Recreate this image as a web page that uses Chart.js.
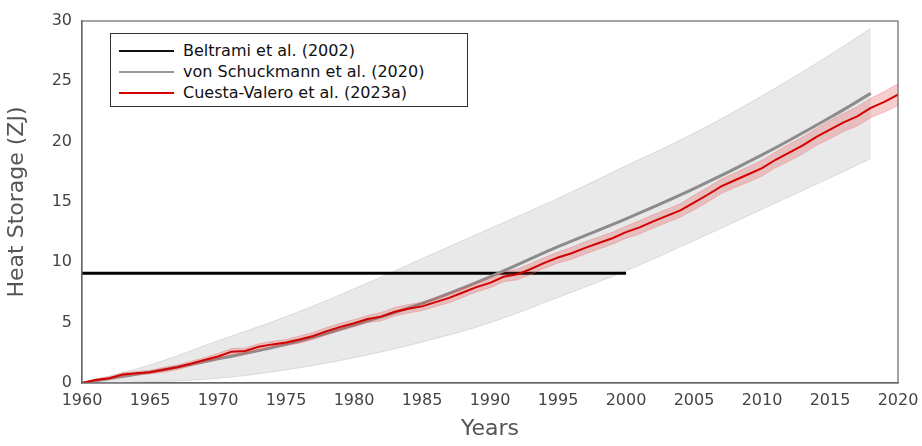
<!DOCTYPE html>
<html>
<head>
<meta charset="utf-8">
<script src="https://cdn.jsdelivr.net/npm/chart.js@4"></script>
<style>
  body { margin: 0; background: #fff; }
  #wrap { position: relative; width: 922px; height: 446px; }
  #legend { position: absolute; left: 110px; top: 33px; width: 358px; height: 74px; border: 1px solid #333;
    background: #fff; font-family: "DejaVu Sans", sans-serif; font-size: 16px; color: #111; box-sizing: border-box; padding: 6px 0 0 8px; }
  .row { display: flex; align-items: center; height: 21px; }
  .sw { width: 55px; height: 2px; margin-right: 9px; }
</style>
</head>
<body>
<div id="wrap">
  <canvas id="c" width="922" height="446"></canvas>
  <div id="legend">
    <div class="row"><span class="sw" style="background:#111"></span>Beltrami et al. (2002)</div>
    <div class="row"><span class="sw" style="background:#999"></span>von Schuckmann et al. (2020)</div>
    <div class="row"><span class="sw" style="background:#d40000"></span>Cuesta-Valero et al. (2023a)</div>
  </div>
</div>
<script>
// ====== DATA ======
const beltramiYears = [1960, 2000];
const beltramiValue = [9.1, 9.1];

const vsYears = [1960, 1965, 1970, 1975, 1980, 1985, 1990, 1995, 2000, 2005, 2010, 2015, 2018];
const vsMean  = [0, 0.9, 2.0, 3.2, 4.8, 6.6, 8.8, 11.3, 13.6, 16.1, 18.9, 22.0, 24.0];
const vsUpper = [0, 1.5, 3.5, 5.5, 7.8, 10.3, 12.8, 15.3, 18.0, 20.7, 23.8, 27.2, 29.4];
const vsLower = [0, 0.1, 0.4, 1.1, 2.1, 3.4, 5.0, 7.1, 9.3, 11.8, 14.4, 17.0, 18.6];

const cvYears = [];
for (let y = 1960; y <= 2020; y++) cvYears.push(y);
const cvMean = [0, 0.25, 0.4, 0.7, 0.8, 0.9, 1.1, 1.3, 1.6, 1.9,
  2.2, 2.6, 2.65, 3.0, 3.2, 3.35, 3.6, 3.9, 4.3, 4.65,
  4.95, 5.3, 5.5, 5.9, 6.15, 6.35, 6.7, 7.05, 7.5, 7.95,
  8.3, 8.8, 9.0, 9.45, 9.95, 10.4, 10.75, 11.2, 11.6, 12.0,
  12.5, 12.9, 13.4, 13.85, 14.3, 14.95, 15.6, 16.3, 16.8, 17.3,
  17.8, 18.5, 19.1, 19.7, 20.4, 21.0, 21.6, 22.1, 22.8, 23.3, 23.9];
const cvErr = [0, 0.1, 0.1, 0.15, 0.15, 0.15, 0.2, 0.2, 0.2, 0.2,
  0.25, 0.25, 0.25, 0.25, 0.25, 0.25, 0.3, 0.3, 0.3, 0.3,
  0.3, 0.3, 0.35, 0.35, 0.35, 0.35, 0.35, 0.4, 0.4, 0.4,
  0.4, 0.4, 0.45, 0.45, 0.45, 0.45, 0.5, 0.5, 0.5, 0.5,
  0.5, 0.55, 0.55, 0.55, 0.55, 0.6, 0.6, 0.6, 0.6, 0.65,
  0.65, 0.65, 0.7, 0.7, 0.7, 0.75, 0.75, 0.8, 0.8, 0.85, 0.9];

const xTicks = [1960, 1965, 1970, 1975, 1980, 1985, 1990, 1995, 2000, 2005, 2010, 2015, 2020];

function pts(xs, ys) { return xs.map((x, i) => ({ x: x, y: ys[i] })); }

const frame = {
  id: 'frame',
  afterDraw(chart) {
    const a = chart.chartArea, c = chart.ctx;
    c.save();
    c.strokeStyle = '#666';
    c.lineWidth = 1.2;
    c.strokeRect(a.left, a.top, a.right - a.left, a.bottom - a.top);
    c.restore();
  }
};

const ctx = document.getElementById('c').getContext('2d');
new Chart(ctx, {
  type: 'line',
  data: {
    datasets: [
      { order: 6, data: pts(vsYears, vsUpper), borderColor: 'rgba(200,200,200,0.6)', borderWidth: 1, backgroundColor: 'rgba(200,200,200,0.4)', fill: '+1', tension: 0.4, pointRadius: 0 },
      { order: 5, data: pts(vsYears, vsLower), borderColor: 'rgba(200,200,200,0.6)', borderWidth: 1, fill: false, tension: 0.4, pointRadius: 0 },
      { order: 4, data: pts(beltramiYears, beltramiValue), borderColor: '#000', borderWidth: 3, fill: false, pointRadius: 0 },
      { order: 3, data: pts(vsYears, vsMean), borderColor: '#8c8c8c', borderWidth: 3, fill: false, tension: 0.4, pointRadius: 0 },
      { order: 2, data: pts(cvYears, cvMean.map((v, i) => v + cvErr[i])), borderColor: 'rgba(230,120,120,0.4)', borderWidth: 1, backgroundColor: 'rgba(225,60,60,0.25)', fill: '+1', pointRadius: 0 },
      { order: 1, data: pts(cvYears, cvMean.map((v, i) => v - cvErr[i])), borderColor: 'rgba(230,120,120,0.4)', borderWidth: 1, fill: false, pointRadius: 0 },
      { order: 0, data: pts(cvYears, cvMean), borderColor: '#d40000', borderWidth: 2, fill: false, pointRadius: 0 }
    ]
  },
  options: {
    responsive: false,
    animation: false,
    layout: { padding: { top: 21, right: 24, left: 0, bottom: 0 } },
    plugins: { legend: { display: false }, tooltip: { enabled: false } },
    scales: {
      x: {
        type: 'linear', min: 1960, max: 2020,
        afterBuildTicks: s => { s.ticks = xTicks.map(v => ({ value: v })); },
        afterFit: s => { s.height = 63; },
        grid: { display: false, drawTicks: true, tickLength: 6, tickColor: '#666' },
        border: { color: '#666', width: 1.2 },
        ticks: { color: '#444', font: { family: 'DejaVu Sans', size: 16 }, padding: 2, maxRotation: 0, callback: v => v },
        title: { display: true, text: 'Years', color: '#555', font: { family: 'DejaVu Sans', size: 22 }, padding: { top: 6 } }
      },
      y: {
        min: 0, max: 30,
        afterFit: s => { s.width = 82; },
        grid: { display: false, drawTicks: true, tickLength: 6, tickColor: '#666' },
        border: { color: '#666', width: 1.2 },
        ticks: { stepSize: 5, color: '#444', font: { family: 'DejaVu Sans', size: 16 }, padding: 4 },
        title: { display: true, text: 'Heat Storage (ZJ)', color: '#555', font: { family: 'DejaVu Sans', size: 22 }, padding: { bottom: 4 } }
      }
    }
  },
  plugins: [frame]
});
</script>
</body>
</html>
